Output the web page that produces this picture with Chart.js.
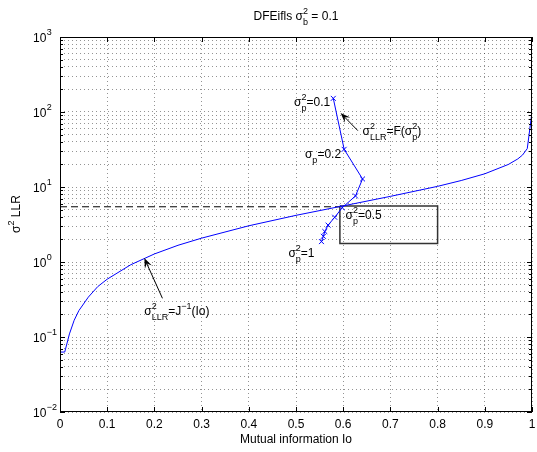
<!DOCTYPE html>
<html>
<head>
<meta charset="utf-8">
<script src="https://cdn.jsdelivr.net/npm/chart.js@4.4.0/dist/chart.umd.min.js"></script>
<style>
  html, body { margin: 0; padding: 0; background: #fff; }
  #wrap { width: 537px; height: 452px; }
</style>
</head>
<body>
<div id="wrap"><canvas id="chart" width="537" height="452"></canvas></div>
<script>
// J^-1 curve (sigma^2 LLR against mutual information Io)
const ioValues = [0, 0.01, 0.02, 0.03, 0.04, 0.06, 0.08, 0.1, 0.15, 0.2, 0.25, 0.3, 0.4, 0.5,
                  0.6, 0.7, 0.8, 0.85, 0.9, 0.95, 0.97, 0.98, 0.99, 1.0];
const llrVariance = [0.063, 0.063, 0.11, 0.167, 0.225, 0.34, 0.47, 0.59, 0.92, 1.28, 1.67, 2.08, 3.04, 4.19,
                     5.6, 7.5, 10.2, 12.2, 15.0, 20.0, 23.7, 26.7, 32.5, 100];

// trajectory sigma_p^2 = 0.1 ... 1.0
const sigmaP2 = [0.1, 0.2, 0.3, 0.4, 0.5, 0.6, 0.7, 0.8, 0.9, 1.0];
const trajIo = [0.579, 0.602, 0.641, 0.626, 0.598, 0.582, 0.568, 0.561, 0.558, 0.554];
const trajLlr = [152, 31.8, 12.8, 7.6, 5.3, 3.95, 3.1, 2.55, 2.2, 1.87];

// dashed reference level and the box
const refLevel = 5.45;
const refIo = [0, 0.593];
const boxIo = [0.593, 0.8];
const boxLlr = [1.77, 5.6];

// axes
const xTicks = [0, 0.1, 0.2, 0.3, 0.4, 0.5, 0.6, 0.7, 0.8, 0.9, 1];
const yDecades = [-2, -1, 0, 1, 2, 3];

const FONT = '"Liberation Sans", Arial, Helvetica, sans-serif';
const GRID = 'rgba(0,0,0,0.42)';

// minor + major log grid values
const yGrid = [];
yDecades.forEach(e => {
    for (let m = 1; m <= 9; m++) {
        if (e === 3 && m > 1) break;
        yGrid.push(Number((m * Math.pow(10, e)).toPrecision(3)));
    }
});

// text with super/subscripts
function drawRich(ctx, parts, x, y, size, measureOnly) {
    const small = 9;
    let cx = x;
    parts.forEach(p => {
        ctx.font = size + 'px ' + FONT;
        if (!measureOnly) ctx.fillText(p.t, cx, y);
        cx += ctx.measureText(p.t).width;
        ctx.font = small + 'px ' + FONT;
        let w = 0;
        if (p.sup) {
            if (!measureOnly) ctx.fillText(p.sup, cx, y - size * 0.5);
            w = ctx.measureText(p.sup).width;
        }
        if (p.sub) {
            if (!measureOnly) ctx.fillText(p.sub, cx, y + size * 0.38);
            w = Math.max(w, ctx.measureText(p.sub).width);
        }
        cx += w;
    });
    return cx - x;
}

function drawArrow(ctx, x1, y1, x2, y2) {
    const ang = Math.atan2(y2 - y1, x2 - x1);
    const len = 10, half = 3.8;
    ctx.beginPath();
    ctx.moveTo(x1, y1);
    ctx.lineTo(x2 - Math.cos(ang) * 6, y2 - Math.sin(ang) * 6);
    ctx.stroke();
    ctx.beginPath();
    ctx.moveTo(x2, y2);
    ctx.lineTo(x2 - len * Math.cos(ang) + half * Math.sin(ang), y2 - len * Math.sin(ang) - half * Math.cos(ang));
    ctx.lineTo(x2 - 6 * Math.cos(ang), y2 - 6 * Math.sin(ang));
    ctx.lineTo(x2 - len * Math.cos(ang) - half * Math.sin(ang), y2 - len * Math.sin(ang) + half * Math.cos(ang));
    ctx.closePath();
    ctx.fill();
}

const labels = [
    { io: 0.496, v: 120, parts: [{ t: 'σ', sup: '2', sub: 'p' }, { t: '=0.1' }] },
    { io: 0.641, v: 49.4, parts: [{ t: 'σ', sup: '2', sub: 'LLR' }, { t: '=F(σ', sup: '2', sub: 'p' }, { t: ')' }] },
    { io: 0.519, v: 24.4, parts: [{ t: 'σ', sub: 'p' }, { t: '=0.2' }] },
    { io: 0.605, v: 3.74, parts: [{ t: 'σ', sup: '2', sub: 'p' }, { t: '=0.5' }] },
    { io: 0.484, v: 1.166, parts: [{ t: 'σ', sup: '2', sub: 'p' }, { t: '=1' }] },
    { io: 0.1786, v: 0.196, parts: [{ t: 'σ', sup: '2', sub: 'LLR' }, { t: '=J', sup: '−1' }, { t: '(Io)' }] }
];
const arrows = [
    { from: [0.631, 56.4], to: [0.5945, 97] },
    { from: [0.217, 0.328], to: [0.1786, 1.13] }
];

const decorPlugin = {
    id: 'decor',
    afterDraw(chart) {
        const ctx = chart.ctx;
        const area = chart.chartArea;
        const xs = chart.scales.x, ys = chart.scales.y;
        ctx.save();
        ctx.fillStyle = '#000';
        ctx.strokeStyle = '#000';
        ctx.textBaseline = 'alphabetic';
        ctx.textAlign = 'left';

        // frame
        ctx.lineWidth = 1;
        ctx.strokeRect(Math.round(area.left) + 0.5, Math.round(area.top) + 0.5,
            Math.round(area.right - area.left) - 1, Math.round(area.bottom - area.top) - 1);

        // inward tick marks
        ctx.beginPath();
        xTicks.forEach(v => {
            const px = Math.round(xs.getPixelForValue(v)) + 0.5;
            ctx.moveTo(px, area.bottom); ctx.lineTo(px, area.bottom - 5);
            ctx.moveTo(px, area.top); ctx.lineTo(px, area.top + 5);
        });
        yGrid.forEach(v => {
            const py = Math.round(ys.getPixelForValue(v)) + 0.5;
            const major = Math.abs(Math.log10(v) - Math.round(Math.log10(v))) < 1e-6;
            const l = major ? 5 : 3;
            ctx.moveTo(area.left, py); ctx.lineTo(area.left + l, py);
            ctx.moveTo(area.right, py); ctx.lineTo(area.right - l, py);
        });
        ctx.stroke();

        // y tick labels 10^n
        yDecades.forEach(e => {
            const py = ys.getPixelForValue(Math.pow(10, e));
            ctx.font = '12px ' + FONT;
            ctx.fillText('10', 33, py + 4.5);
            const w = ctx.measureText('10').width;
            ctx.font = '9px ' + FONT;
            ctx.fillText(e < 0 ? '−' + (-e) : String(e), 33 + w + 0.5, py - 2.5);
        });

        // title
        const titleParts = [{ t: 'DFEifls σ', sup: '2', sub: 'b' }, { t: ' = 0.1' }];
        const tw = drawRich(ctx, titleParts, 0, 0, 12, true);
        const cx = (area.left + area.right) / 2;
        drawRich(ctx, titleParts, cx - tw / 2, 20, 12);

        // x axis title
        ctx.font = '12px ' + FONT;
        ctx.textAlign = 'center';
        ctx.fillText('Mutual information Io', cx, 443);
        ctx.textAlign = 'left';

        // y axis title (rotated)
        const yParts = [{ t: 'σ', sup: '2' }, { t: ' LLR' }];
        const yw = drawRich(ctx, yParts, 0, 0, 12, true);
        ctx.save();
        ctx.translate(20, 214);
        ctx.rotate(-Math.PI / 2);
        drawRich(ctx, yParts, -yw / 2, 0, 12);
        ctx.restore();

        // annotation labels
        labels.forEach(l => {
            drawRich(ctx, l.parts, xs.getPixelForValue(l.io), ys.getPixelForValue(l.v), 12);
        });

        // arrows
        ctx.lineWidth = 1;
        arrows.forEach(a => {
            drawArrow(ctx,
                xs.getPixelForValue(a.from[0]), ys.getPixelForValue(a.from[1]),
                xs.getPixelForValue(a.to[0]), ys.getPixelForValue(a.to[1]));
        });
        ctx.restore();
    }
};

const curveData = ioValues.map((x, i) => ({ x: x, y: llrVariance[i] }));
const trajData = trajIo.map((x, i) => ({ x: x, y: trajLlr[i] }));
const refData = refIo.map(x => ({ x: x, y: refLevel }));
const boxData = [
    { x: boxIo[0], y: boxLlr[1] }, { x: boxIo[1], y: boxLlr[1] },
    { x: boxIo[1], y: boxLlr[0] }, { x: boxIo[0], y: boxLlr[0] },
    { x: boxIo[0], y: boxLlr[1] }
];

new Chart(document.getElementById('chart'), {
    type: 'scatter',
    data: {
        datasets: [
            {
                label: 'sigma2 LLR = J^-1(Io)',
                data: curveData,
                showLine: true,
                borderColor: '#0000ff',
                borderWidth: 1,
                pointRadius: 0
            },
            {
                label: 'sigma2 LLR = F(sigma2 p)',
                data: trajData,
                showLine: true,
                borderColor: '#0000ff',
                borderWidth: 1,
                pointStyle: 'crossRot',
                pointRadius: 3.5,
                pointBorderColor: '#0000ff',
                pointBorderWidth: 1
            },
            {
                label: 'level',
                data: refData,
                showLine: true,
                borderColor: '#000',
                borderWidth: 1,
                borderDash: [7, 4],
                pointRadius: 0
            },
            {
                label: 'box',
                data: boxData,
                showLine: true,
                borderColor: '#333',
                borderWidth: 1.5,
                pointRadius: 0
            }
        ]
    },
    options: {
        responsive: false,
        animation: false,
        devicePixelRatio: 1,
        layout: { padding: { top: 37, right: 1, bottom: 0, left: 0 } },
        plugins: {
            legend: { display: false },
            tooltip: { enabled: false }
        },
        scales: {
            x: {
                type: 'linear',
                min: 0,
                max: 1,
                afterBuildTicks: scale => { scale.ticks = xTicks.map(v => ({ value: v })); },
                afterFit: scale => { scale.height = 40; scale.paddingLeft = 0; scale.paddingRight = 0; },
                ticks: {
                    autoSkip: false,
                    maxRotation: 0,
                    padding: 5,
                    color: '#000',
                    font: { family: FONT, size: 12 },
                    callback: v => String(v)
                },
                grid: { color: GRID, drawTicks: false, lineWidth: 1 },
                border: { display: false, dash: [1, 3] }
            },
            y: {
                type: 'logarithmic',
                min: 0.01,
                max: 1000,
                afterBuildTicks: scale => { scale.ticks = yGrid.map(v => ({ value: v })); },
                afterFit: scale => { scale.width = 60; scale.paddingTop = 0; scale.paddingBottom = 0; },
                ticks: { display: false },
                grid: { color: GRID, drawTicks: false, lineWidth: 1 },
                border: { display: false, dash: [1, 3] }
            }
        }
    },
    plugins: [decorPlugin]
});
</script>
</body>
</html>
